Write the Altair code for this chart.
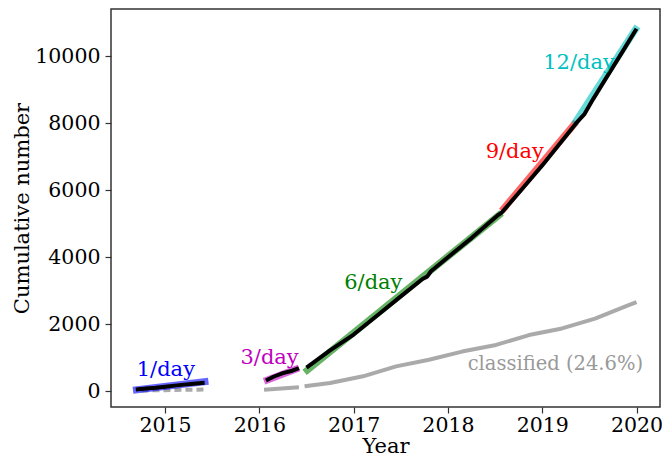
import altair as alt
import pandas as pd

# ---- data ----
# observed cumulative counts (black), three separate observing periods
obs1_year = [2014.69, 2014.80, 2014.90, 2015.00, 2015.10, 2015.20, 2015.30, 2015.42]
obs1_count = [50, 80, 100, 130, 165, 195, 220, 250]
obs2_year = [2016.07, 2016.15, 2016.25, 2016.35, 2016.42]
obs2_count = [320, 430, 540, 610, 690]
obs3_year = [2016.50, 2016.75, 2017.00, 2017.25, 2017.50, 2017.73, 2017.78, 2017.82,
             2018.00, 2018.25, 2018.52, 2018.57, 2018.80, 2019.00, 2019.20, 2019.36,
             2019.45, 2019.54, 2019.70, 2019.85, 2020.00]
obs3_count = [700, 1220, 1690, 2260, 2830, 3350, 3420, 3580,
              4000, 4570, 5230, 5330, 6080, 6740, 7440, 8000,
              8280, 8720, 9450, 10130, 10820]

# classified (grey)
cls1_year = [2014.75, 2015.00, 2015.20, 2015.45]
cls1_count = [20, 30, 40, 50]
cls2_year = [2016.05, 2016.42]
cls2_count = [40, 120]
cls3_year = [2016.48, 2016.75, 2017.10, 2017.45, 2017.80, 2018.15, 2018.51, 2018.86,
             2019.21, 2019.56, 2019.91, 2020.00]
cls3_count = [148, 246, 443, 739, 936, 1182, 1380, 1675, 1872, 2167, 2562, 2660]

# rate fits
fit_names = ["1/day", "3/day", "6/day", "9/day", "12/day"]
fit_year0 = [2014.66, 2016.05, 2016.48, 2018.57, 2019.34]
fit_year1 = [2015.46, 2016.42, 2018.57, 2019.36, 2020.01]
fit_count0 = [30, 296, 560, 5380, 7980]
fit_count1 = [296, 690, 5320, 8040, 10890]
fit_colors = ["#0000ff", "#bf00bf", "#008000", "#ff0000", "#00bfbf"]

# labels
label_text = ["1/day", "3/day", "6/day", "9/day", "12/day", "classified (24.6%)"]
label_year = [2014.70, 2015.80, 2016.90, 2018.40, 2019.01, 2020.07]
label_count = [443, 800, 3055, 6947, 9607, 641]
label_colors = ["#0000ff", "#bf00bf", "#008000", "#ff0000", "#00bfbf", "#999999"]
label_align = ["left", "left", "left", "left", "left", "right"]

FONT = "DejaVu Serif"
XDOM = [2014.427, 2020.249]
YDOM = [-473, 11410]

x = alt.X("year:Q", scale=alt.Scale(domain=XDOM, nice=False, zero=False),
          axis=alt.Axis(values=[2015, 2016, 2017, 2018, 2019, 2020], format="d", title="Year"))
y = alt.Y("count:Q", scale=alt.Scale(domain=YDOM, nice=False, zero=False),
          axis=alt.Axis(values=[0, 2000, 4000, 6000, 8000, 10000], format="d",
                        title="Cumulative number"))

# fit lines table
fit_rows = []
for n, a0, a1, c0, c1 in zip(fit_names, fit_year0, fit_year1, fit_count0, fit_count1):
    fit_rows.append({"fit": n, "year": a0, "count": c0})
    fit_rows.append({"fit": n, "year": a1, "count": c1})
fit_df = pd.DataFrame(fit_rows)

fits = alt.Chart(fit_df).mark_line(strokeWidth=7, opacity=0.6, strokeCap="butt").encode(
    x=x, y=y,
    color=alt.Color("fit:N", scale=alt.Scale(domain=fit_names, range=fit_colors), legend=None),
    detail="fit:N",
)

def seg_df(parts):
    rows = []
    for i, (ys, cs) in enumerate(parts):
        for a, c in zip(ys, cs):
            rows.append({"seg": i, "year": a, "count": c})
    return pd.DataFrame(rows)

obs_df = seg_df([(obs1_year, obs1_count), (obs2_year, obs2_count), (obs3_year, obs3_count)])
obs = alt.Chart(obs_df).mark_line(color="black", strokeWidth=4, strokeJoin="round").encode(
    x=x, y=y, detail="seg:N")

cls_df = seg_df([(cls2_year, cls2_count), (cls3_year, cls3_count)])
cls = alt.Chart(cls_df).mark_line(color="#aaaaaa", strokeWidth=4, strokeJoin="round").encode(
    x=x, y=y, detail="seg:N")
cls1_df = pd.DataFrame({"year": cls1_year, "count": cls1_count})
cls1 = alt.Chart(cls1_df).mark_line(color="#aaaaaa", strokeWidth=4, strokeDash=[7, 4]).encode(
    x=x, y=y)

lab_df = pd.DataFrame({"text": label_text, "year": label_year, "count": label_count,
                       "color": label_colors, "align": label_align})
labs_left = alt.Chart(lab_df[lab_df["align"] == "left"]).mark_text(
    font=FONT, fontSize=21, align="left", baseline="alphabetic").encode(
    x=x, y=y, text="text:N", color=alt.Color("color:N", scale=None))
labs_right = alt.Chart(lab_df[lab_df["align"] == "right"]).mark_text(
    font=FONT, fontSize=19.5, align="right", baseline="alphabetic").encode(
    x=x, y=y, text="text:N", color=alt.Color("color:N", scale=None))

chart = alt.layer(cls1, cls, fits, obs, labs_left, labs_right).properties(
    width=549, height=398,
    autosize=alt.AutoSizeParams(type="none"),
    padding={"left": 103, "top": 1, "right": 2, "bottom": 53},
).configure_view(
    stroke="#333333", strokeWidth=1.5
).configure_axis(
    grid=False, domain=False,
    labelFont=FONT, labelFontSize=20.5, labelColor="black",
    titleFont=FONT, titleFontSize=21, titleColor="black", titleFontWeight="normal",
    tickColor="#333333", tickWidth=1.2, tickSize=6,
).configure_axisX(
    labelPadding=2, titlePadding=0,
).configure_axisY(
    labelPadding=5, titlePadding=2,
)

chart.save("out.html", embed_options={"renderer": "svg", "actions": False})
